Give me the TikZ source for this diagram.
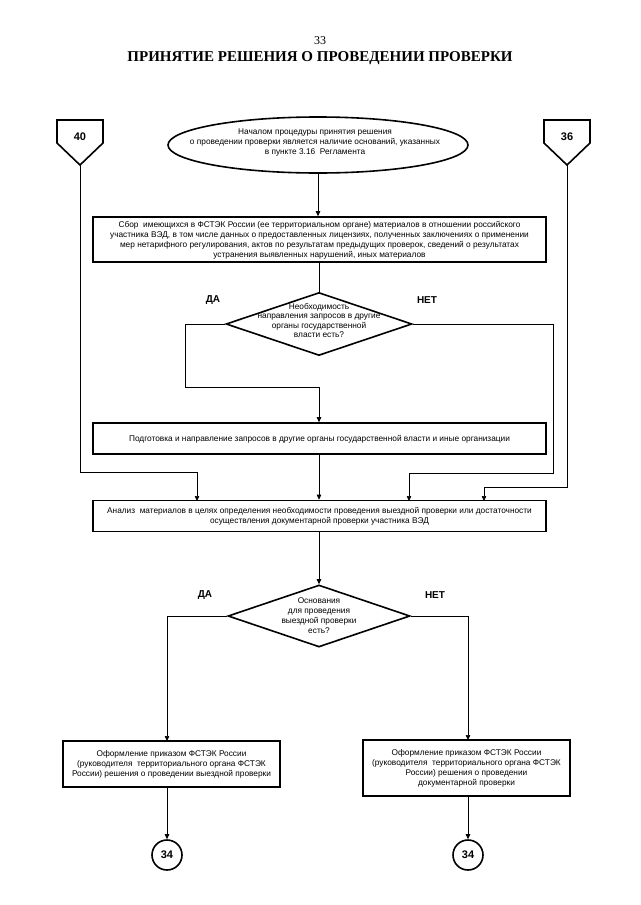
\documentclass[tikz,border=0pt]{standalone}
\usepackage{fontspec}
\setmainfont{Liberation Sans}
\newfontfamily\titlefont{Liberation Serif}
\usetikzlibrary{shapes.geometric,arrows.meta}
\begin{document}
\begin{tikzpicture}[x=1pt,y=-1pt,
  thickbox/.style={draw,line width=1.6pt,rectangle,inner sep=0pt},
  thickline/.style={line width=1.6pt,line join=miter},
  conn/.style={line width=0.6pt},
  arr/.style={conn,-{Triangle[length=5pt,width=4.5pt]}},
  txt/.style={font=\fontsize{8.3}{10}\selectfont,align=center,inner sep=0pt},
  dtxt/.style={font=\fontsize{8.3}{9.2}\selectfont,align=center,inner sep=0pt},
  yn/.style={font=\fontsize{10}{12}\selectfont\bfseries,inner sep=0pt},
  num/.style={font=\fontsize{11}{13}\selectfont\bfseries,inner sep=0pt}]
\useasboundingbox[fill=white] (0,0) rectangle (640,905);

% title
\node[font=\titlefont\fontsize{12}{14}\selectfont,inner sep=0pt] (pagenum) at (320,41) {33};
\node[font=\titlefont\fontsize{15}{17}\selectfont\bfseries,inner sep=0pt] (title) at (320,58) {ПРИНЯТИЕ РЕШЕНИЯ О ПРОВЕДЕНИИ ПРОВЕРКИ};

% off-page connectors
\draw[thickline] (57,120) -- (103,120) -- (103,143) -- (80,165) -- (57,143) -- cycle;
\coordinate (p40tip) at (80,165);
\node[num] (p40) at (80,137) {40};
\draw[thickline] (544,120) -- (590,120) -- (590,143) -- (567,165) -- (544,143) -- cycle;
\coordinate (p36tip) at (567,165);
\node[num] (p36) at (567,137) {36};

% start ellipse
\node[draw,ellipse,line width=1.6pt,minimum width=300pt,minimum height=56pt,inner sep=0pt] (start) at (318,145) {};
\node[txt] (starttext) at (315,143) {Началом процедуры принятия решения\\о проведении проверки является наличие оснований, указанных\\в пункте 3.16\ \ Регламента};

% boxes
\node[thickbox,minimum width=453pt,minimum height=45pt] (box1) at (319.5,239.5) {};
\node[txt] (box1text) at (319.5,240) {Сбор\ \ имеющихся в ФСТЭК России (ее территориальном органе) материалов в отношении российского\\участника ВЭД, в том числе данных о предоставленных лицензиях, полученных заключениях о применении\\мер нетарифного регулирования, актов по результатам предыдущих проверок, сведений о результатах\\устранения выявленных нарушений, иных материалов};

\node[draw,diamond,line width=1.6pt,minimum width=186pt,minimum height=63pt,inner sep=0pt] (d1) at (319,324) {};
\node[dtxt] (d1text) at (319,320.5) {Необходимость\\направления запросов в другие\\органы государственной\\власти есть?};
\node[yn] (yes1) at (213,300) {ДА};
\node[yn] (no1) at (427,300) {НЕТ};

\node[thickbox,minimum width=453pt,minimum height=31pt] (box2) at (319.5,438.5) {};
\node[txt] (box2text) at (319.5,439) {Подготовка и направление запросов в другие органы государственной власти и иные организации};

\node[thickbox,minimum width=453pt,minimum height=31pt] (box3) at (319.5,516) {};
\node[txt] (box3text) at (319.5,516) {Анализ\ \ материалов в целях определения необходимости проведения выездной проверки или достаточности\\осуществления документарной проверки участника ВЭД};

\node[draw,diamond,line width=1.6pt,minimum width=182pt,minimum height=62pt,inner sep=0pt] (d2) at (319,616) {};
\node[txt] (d2text) at (319,616) {Основания\\для проведения\\выездной проверки\\есть?};
\node[yn] (yes2) at (205,595) {ДА};
\node[yn] (no2) at (435,595) {НЕТ};

\node[thickbox,minimum width=217pt,minimum height=46pt] (box4) at (171.5,764) {};
\node[txt] (box4text) at (171.5,764) {Оформление приказом ФСТЭК России\\(руководителя\ \ территориального органа ФСТЭК\\России) решения о проведении выездной проверки};

\node[thickbox,minimum width=207pt,minimum height=56pt] (box5) at (466.5,768) {};
\node[txt] (box5text) at (466.5,768) {Оформление приказом ФСТЭК России\\(руководителя\ \ территориального органа ФСТЭК\\России) решения о проведении\\документарной проверки};

\node[draw,circle,line width=1.6pt,minimum size=30pt,inner sep=0pt,font=\fontsize{11}{13}\selectfont\bfseries] (c1) at (167,855) {34};
\node[draw,circle,line width=1.6pt,minimum size=30pt,inner sep=0pt,font=\fontsize{11}{13}\selectfont\bfseries] (c2) at (468,855) {34};

% helper coordinates
\coordinate (yesbend1) at (185,387);
\coordinate (nobend1) at (553,473);
\coordinate (b3in1) at (197,501);
\coordinate (b3in3) at (409,501);
\coordinate (b3in4) at (484,501);
\coordinate (b4in) at (167,741);
\coordinate (b5in) at (468,740);

% connectors
\draw[arr] (start.south) -- (start.south |- box1.north);
\draw[conn] (box1.south -| d1.north) -- (d1.north);
\draw[arr] (d1.west) -| (yesbend1) -| (box2.north -| d1.north);
\draw[arr] (d1.east) -| (nobend1) -| (b3in3);
\draw[arr] (p40tip) |- (80,472) -| (b3in1);
\draw[arr] (p36tip) |- (567,487) -| (b3in4);
\draw[arr] (box2.south -| d1.north) -- (box3.north -| d1.north);
\draw[arr] (box3.south -| d2.north) -- (d2.north);
\draw[arr] (d2.west) -| (b4in);
\draw[arr] (d2.east) -| (b5in);
\draw[arr] (b4in |- box4.south) -- (c1.north);
\draw[arr] (b5in |- box5.south) -- (c2.north);
\end{tikzpicture}
\end{document}
